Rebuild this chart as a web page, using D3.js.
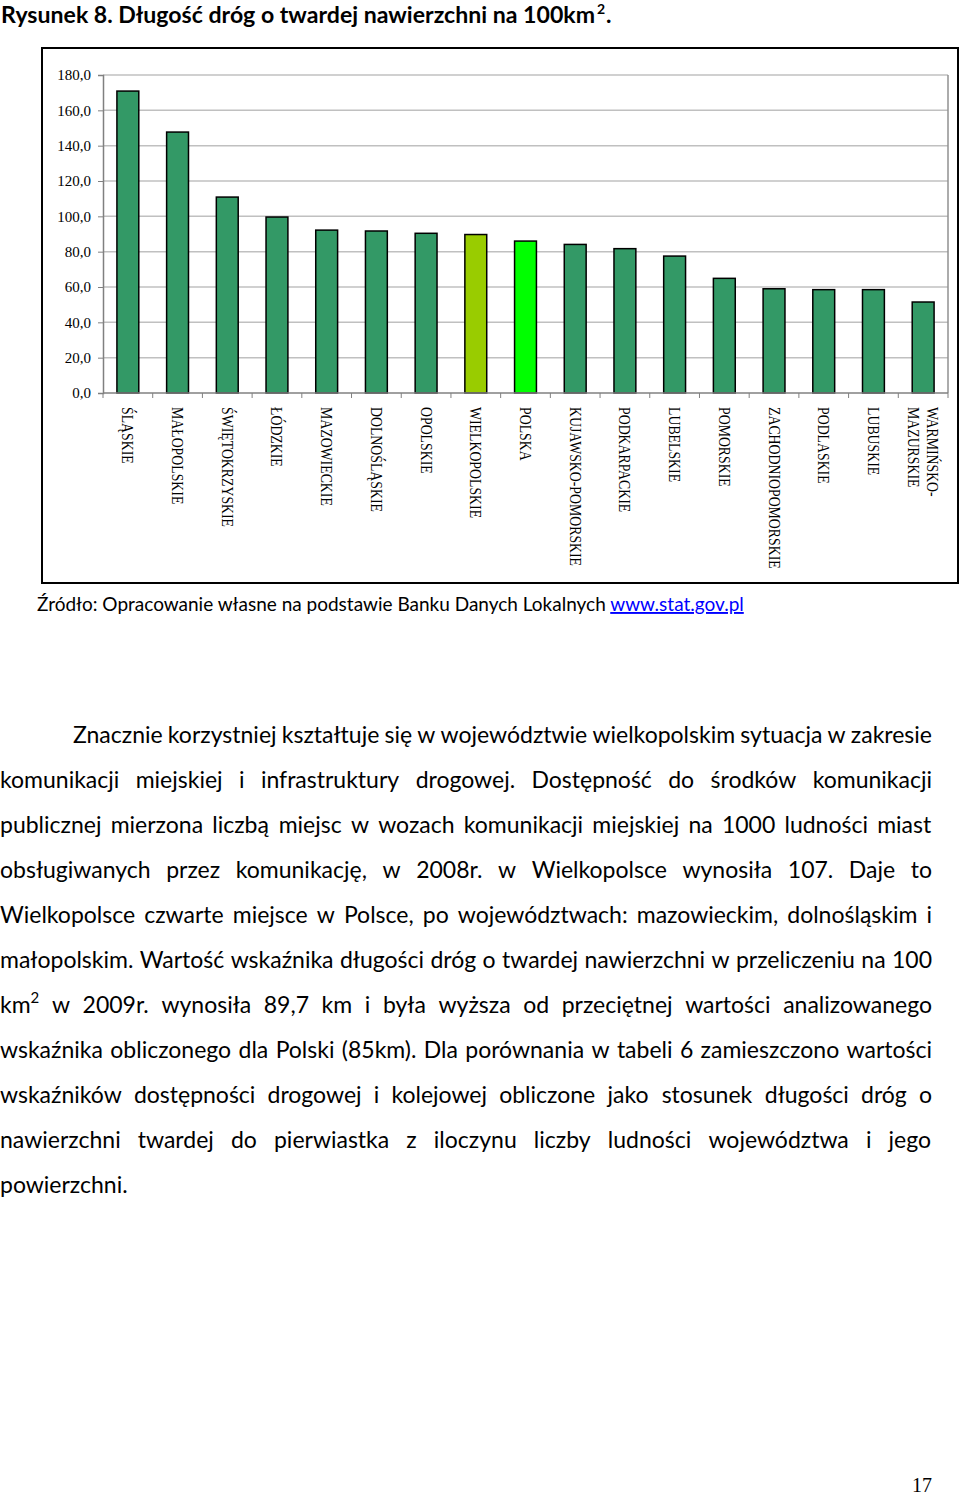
<!DOCTYPE html>
<html>
<head>
<meta charset="utf-8">
<script src="https://cdn.jsdelivr.net/npm/d3@7"></script>
<style>
  body { margin: 0; background: #fff; }
  svg { display: block; }
</style>
</head>
<body>
<div id="page"></div>
<script>
// data
var regions = ["ŚLĄSKIE", "MAŁOPOLSKIE", "ŚWIĘTOKRZYSKIE", "ŁÓDZKIE", "MAZOWIECKIE",
  "DOLNOŚLĄSKIE", "OPOLSKIE", "WIELKOPOLSKIE", "POLSKA", "KUJAWSKO-POMORSKIE",
  "PODKARPACKIE", "LUBELSKIE", "POMORSKIE", "ZACHODNIOPOMORSKIE", "PODLASKIE",
  "LUBUSKIE", "WARMIŃSKO-MAZURSKIE"];
var roadDensity = [170.9, 147.7, 110.9, 99.6, 92.2, 91.7, 90.4, 89.7, 86.0, 84.1,
  81.7, 77.5, 64.9, 59.0, 58.5, 58.5, 51.5];
var yTicks = [0, 20, 40, 60, 80, 100, 120, 140, 160, 180];

var bodyLines = [
  "Znacznie korzystniej kształtuje się w województwie wielkopolskim sytuacja w zakresie",
  "komunikacji miejskiej i infrastruktury drogowej. Dostępność do środków komunikacji",
  "publicznej mierzona liczbą miejsc w wozach komunikacji miejskiej na 1000 ludności miast",
  "obsługiwanych przez komunikację, w 2008r. w Wielkopolsce wynosiła 107. Daje to",
  "Wielkopolsce czwarte miejsce w Polsce, po województwach: mazowieckim, dolnośląskim i",
  "małopolskim. Wartość wskaźnika długości dróg o twardej nawierzchni w przeliczeniu na 100",
  "km^2 w 2009r. wynosiła 89,7 km i była wyższa od przeciętnej wartości analizowanego",
  "wskaźnika obliczonego dla Polski (85km). Dla porównania w tabeli 6 zamieszczono wartości",
  "wskaźników dostępności drogowej i kolejowej obliczone jako stosunek długości dróg o",
  "nawierzchni twardej do pierwiastka z iloczynu liczby ludności województwa i jego",
  "powierzchni."
];

var W = 960, H = 1497;
var svg = d3.select("#page").append("svg")
    .attr("width", W)
    .attr("height", H);

var sans = "Lato, 'Open Sans', sans-serif";
var serif = "'Liberation Serif', 'Times New Roman', serif";

// title (main text, superscript and full stop as separate pieces)
var titleG = svg.append("g")
    .style("font-family", sans)
    .style("font-weight", "bold")
    .attr("fill", "#000");
titleG.append("text")
    .attr("x", 1).attr("y", 23)
    .attr("textLength", 594)
    .attr("lengthAdjust", "spacingAndGlyphs")
    .style("font-size", "23px")
    .text("Rysunek 8. Długość dróg o twardej nawierzchni na 100km");
titleG.append("text")
    .attr("x", 597).attr("y", 14)
    .style("font-size", "14px")
    .text("2");
titleG.append("text")
    .attr("x", 606).attr("y", 23)
    .style("font-size", "23px")
    .text(".");

// chart frame
svg.append("rect")
    .attr("x", 42).attr("y", 48)
    .attr("width", 916).attr("height", 535)
    .attr("fill", "none")
    .attr("stroke", "#000")
    .attr("stroke-width", 2);

var plot = { left: 103, right: 948, top: 75, bottom: 393 };

var x = d3.scaleBand()
    .domain(regions)
    .range([plot.left, plot.right])
    .paddingInner(0.56)
    .paddingOuter(0.28);

var y = d3.scaleLinear()
    .domain([0, 180])
    .range([plot.bottom, plot.top]);

// gridlines
svg.append("g")
    .selectAll("line")
    .data(yTicks.slice(1))
    .enter().append("line")
    .attr("x1", plot.left).attr("x2", plot.right)
    .attr("y1", function (d) { return y(d); })
    .attr("y2", function (d) { return y(d); })
    .attr("stroke", "#c0c0c0")
    .attr("stroke-width", 1.5);

// plot area border (right side)
svg.append("line")
    .attr("x1", plot.right).attr("x2", plot.right)
    .attr("y1", plot.top).attr("y2", plot.bottom)
    .attr("stroke", "#909090").attr("stroke-width", 1.5);

// y axis
var yAxis = svg.append("g")
    .attr("transform", "translate(" + plot.left + ",0)")
    .call(d3.axisLeft(y).tickValues(yTicks).tickSize(5).tickPadding(7)
      .tickFormat(function (d) { return d3.format(".1f")(d).replace(".", ","); }));
yAxis.select(".domain").attr("stroke", "#808080").attr("stroke-width", 1.5);
yAxis.selectAll(".tick line").attr("stroke", "#808080");
yAxis.selectAll("text")
    .style("font-family", serif)
    .style("font-size", "15px")
    .attr("fill", "#000");

// bars
var barColor = function (d) {
  if (d === "WIELKOPOLSKIE") return "#99cc00";
  if (d === "POLSKA") return "#00ff00";
  return "#339966";
};
svg.append("g")
    .selectAll("rect")
    .data(regions)
    .enter().append("rect")
    .attr("x", function (d) { return x(d); })
    .attr("width", x.bandwidth())
    .attr("y", function (d, i) { return y(roadDensity[i]); })
    .attr("height", function (d, i) { return plot.bottom - y(roadDensity[i]); })
    .attr("fill", barColor)
    .attr("stroke", "#000")
    .attr("stroke-width", 1.5);

// x axis line and ticks at category borders
svg.append("line")
    .attr("x1", plot.left).attr("x2", plot.right)
    .attr("y1", plot.bottom).attr("y2", plot.bottom)
    .attr("stroke", "#808080").attr("stroke-width", 1.5);
var step = x.step();
svg.append("g")
    .selectAll("line")
    .data(d3.range(regions.length + 1))
    .enter().append("line")
    .attr("x1", function (i) { return plot.left + i * step; })
    .attr("x2", function (i) { return plot.left + i * step; })
    .attr("y1", plot.bottom).attr("y2", plot.bottom + 5)
    .attr("stroke", "#808080");

// category labels, rotated
var labels = svg.append("g")
    .selectAll("text")
    .data(regions)
    .enter().append("text")
    .attr("transform", function (d) {
      return "translate(" + (x(d) + x.bandwidth() / 2) + "," + (plot.bottom + 14) + ") rotate(90) scale(0.92,1.05)";
    })
    .style("font-family", serif)
    .style("font-size", "15px")
    .attr("fill", "#000");
labels.each(function (d) {
  var t = d3.select(this);
  if (d === "WARMIŃSKO-MAZURSKIE") {
    t.append("tspan").attr("x", 0).attr("y", 0).attr("dy", "-0.25em").text("WARMIŃSKO-");
    t.append("tspan").attr("x", 0).attr("y", 0).attr("dy", "0.95em").text("MAZURSKIE");
  } else {
    t.append("tspan").attr("x", 0).attr("dy", "0.35em").text(d);
  }
});

// source
var src = svg.append("text")
    .attr("x", 37).attr("y", 611)
    .style("font-family", sans)
    .style("font-size", "19px")
    .attr("fill", "#000");
src.append("tspan").text("Źródło: Opracowanie własne na podstawie Banku Danych Lokalnych ");
src.append("tspan").attr("fill", "#0000ff")
    .style("text-decoration", "underline")
    .text("www.stat.gov.pl");

// body paragraph, justified line by line
var firstBase = 743, lineGap = 45, textRight = 932;
bodyLines.forEach(function (line, li) {
  var left = li === 0 ? 73 : 0;
  var words = line.split(" ");
  var g = svg.append("g");
  var nodes = words.map(function (w) {
    var t = g.append("text")
        .attr("y", firstBase + li * lineGap)
        .style("font-family", sans)
        .style("font-size", "23px")
        .attr("fill", "#000");
    if (w.indexOf("^") >= 0) {
      var parts = w.split("^");
      t.append("tspan").text(parts[0]);
      t.append("tspan").attr("dy", -10).style("font-size", "15px").text(parts[1]);
    } else {
      t.text(w);
    }
    return t;
  });
  var widths = nodes.map(function (t) { return t.node().getBBox().width; });
  var total = d3.sum(widths);
  var justify = li < bodyLines.length - 1;
  var avail = textRight - left;
  var minGap = 5;
  if (justify && total + minGap * (words.length - 1) > avail) {
    // squeeze the words a little so the line still fits
    var k = (avail - minGap * (words.length - 1)) / total;
    nodes.forEach(function (t, i) {
      widths[i] = widths[i] * k;
      t.attr("textLength", widths[i]).attr("lengthAdjust", "spacingAndGlyphs");
    });
    total = d3.sum(widths);
  }
  var gap = justify ? (avail - total) / (words.length - 1) : 6;
  var cx = left;
  nodes.forEach(function (t, i) {
    t.attr("x", cx);
    cx += widths[i] + gap;
  });
});

// page number
svg.append("text")
    .attr("x", 932).attr("y", 1492)
    .attr("text-anchor", "end")
    .style("font-family", serif)
    .style("font-size", "20px")
    .attr("fill", "#000")
    .text("17");
</script>
</body>
</html>
